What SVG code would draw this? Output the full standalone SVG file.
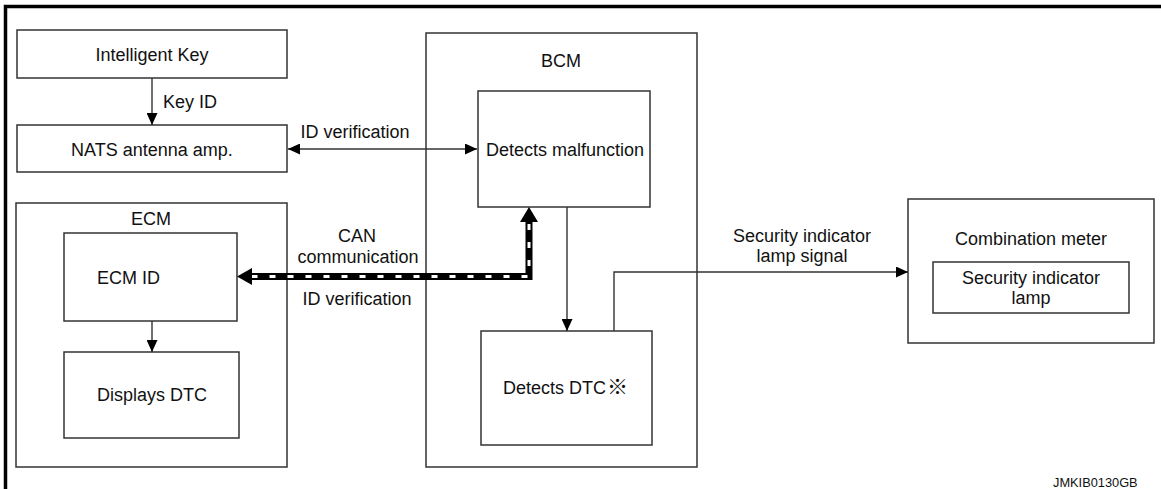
<svg xmlns="http://www.w3.org/2000/svg" width="1161" height="489" viewBox="0 0 1161 489">
<style>
.box{fill:#fff;stroke:#333;stroke-width:1.5}
.t{font-family:"Liberation Sans",Arial,"Noto Sans CJK JP",sans-serif;font-size:18px;fill:#111}
.c{text-anchor:middle}
.ln{fill:none;stroke:#333;stroke-width:1.4}
.frame{fill:none;stroke:#000;stroke-width:3.5}
</style>
<defs>
<marker id="ah" markerUnits="userSpaceOnUse" markerWidth="13" markerHeight="11" refX="12" refY="5.5" orient="auto-start-reverse">
<path d="M0,0 L12,5.5 L0,11 Z" fill="#000"/>
</marker>
</defs>
<rect width="1161" height="489" fill="#fff"/>
<path class="frame" d="M5.5,489 V6.5 H1161"/>

<g id="intelligent-key">
<rect class="box" x="17" y="30" width="270" height="48"/>
<text class="t c" x="152" y="61">Intelligent Key</text>
</g>
<g id="nats">
<rect class="box" x="17" y="125" width="270" height="47"/>
<text class="t c" x="152" y="156">NATS antenna amp.</text>
</g>
<g id="ecm">
<rect class="box" x="16" y="203" width="271" height="264"/>
<text class="t c" x="151" y="225">ECM</text>
</g>
<g id="ecm-id">
<rect class="box" x="64" y="233" width="173" height="88"/>
<text class="t" x="97" y="284">ECM ID</text>
</g>
<g id="displays-dtc">
<rect class="box" x="64" y="352" width="175" height="86"/>
<text class="t c" x="152" y="401">Displays DTC</text>
</g>
<g id="bcm">
<rect class="box" x="426" y="33" width="271" height="434"/>
<text class="t c" x="561" y="67">BCM</text>
</g>
<g id="detects-malfunction">
<rect class="box" x="478" y="91" width="172" height="116"/>
<text class="t c" x="565" y="156">Detects malfunction</text>
</g>
<g id="detects-dtc">
<rect class="box" x="481" y="331" width="171" height="114"/>
<text class="t" x="503" y="394">Detects DTC<tspan font-family="Noto Sans CJK JP,sans-serif" font-size="21" dx="1">※</tspan></text>
</g>
<g id="combination-meter">
<rect class="box" x="908" y="199" width="246" height="144"/>
<text class="t c" x="1031" y="245">Combination meter</text>
</g>
<g id="security-lamp">
<rect class="box" x="933" y="262" width="196" height="51"/>
<text class="t c" x="1031" y="284">Security indicator</text>
<text class="t c" x="1031" y="304">lamp</text>
</g>

<g id="connectors">
<line class="ln" x1="152" y1="78" x2="152" y2="125" marker-end="url(#ah)"/>
<text class="t" x="163" y="108">Key ID</text>
<line class="ln" x1="288" y1="149" x2="477" y2="149" marker-start="url(#ah)" marker-end="url(#ah)"/>
<text class="t c" x="355" y="138">ID verification</text>
<line class="ln" x1="152" y1="321" x2="152" y2="352" marker-end="url(#ah)"/>
<line class="ln" x1="567" y1="207" x2="567" y2="331" marker-end="url(#ah)"/>
<polyline class="ln" points="614,331 614,272 908,272" marker-end="url(#ah)"/>
<text class="t c" x="802" y="242">Security indicator</text>
<text class="t c" x="802" y="262">lamp signal</text>
<path d="M529,221 V276.5 H251" fill="none" stroke="#000" stroke-width="7" stroke-linejoin="miter"/>
<path d="M529,224 V276.5 H252" fill="none" stroke="#fff" stroke-width="3" stroke-dasharray="6 12"/>
<polygon points="529,207 538,222 520,222" fill="#000"/>
<polygon points="237,276.5 252,268 252,285" fill="#000"/>
<text class="t c" x="357" y="242">CAN</text>
<text class="t c" x="358" y="263">communication</text>
<text class="t c" x="357" y="305">ID verification</text>
</g>
<text x="1053" y="487" font-family="Liberation Sans,Arial,sans-serif" font-size="12.8" fill="#111">JMKIB0130GB</text>
</svg>
